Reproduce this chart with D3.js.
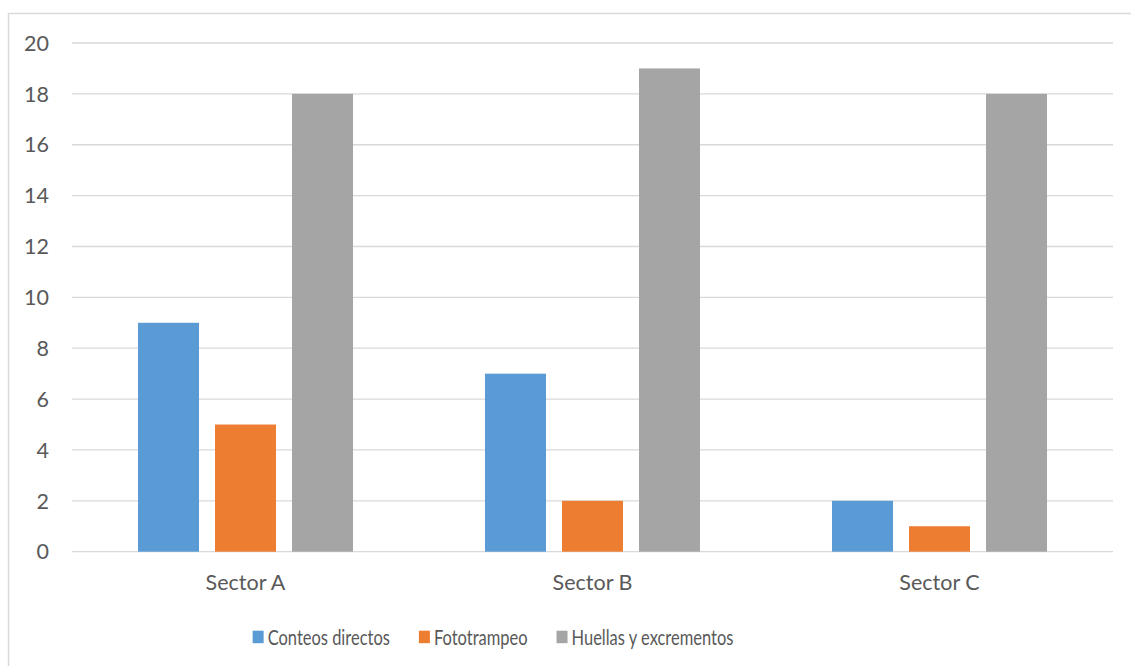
<!DOCTYPE html>
<html>
<head>
<meta charset="utf-8">
<script src="https://cdn.jsdelivr.net/npm/d3@7/dist/d3.min.js"></script>
<style>
  html, body { margin: 0; padding: 0; background: #fff; }
  text { font-family: Lato, "Open Sans", sans-serif; fill: #595959; }
</style>
</head>
<body>
<svg id="chart" width="1131" height="666"></svg>
<script>
// Survey counts per sector and method
const categories = ["Sector A", "Sector B", "Sector C"];
const seriesNames = ["Conteos directos", "Fototrampeo", "Huellas y excrementos"];
const conteos = [9, 7, 2];
const fototrampeo = [5, 2, 1];
const huellas = [18, 19, 18];
const yTicks = [0, 2, 4, 6, 8, 10, 12, 14, 16, 18, 20];
const colors = ["#5B9BD5", "#ED7D31", "#A5A5A5"];

const seriesValues = [conteos, fototrampeo, huellas];

const svg = d3.select("#chart");

// outer frame
svg.append("rect")
  .attr("x", 8.5).attr("y", 13.5)
  .attr("width", 1140).attr("height", 670)
  .attr("fill", "none").attr("stroke", "#D9D9D9").attr("stroke-width", 1.5);

const plot = { left: 72, right: 1113, top: 43, bottom: 551.7 };

const y = d3.scaleLinear().domain([0, 20]).range([plot.bottom, plot.top]);
const x0 = d3.scaleBand().domain(categories).range([plot.left, plot.right]).padding(0);
const x1 = d3.scaleBand().domain(seriesNames).range([0, x0.bandwidth()])
  .paddingInner(0.2078).paddingOuter(0.857);

// gridlines
svg.append("g").selectAll("line").data(yTicks).join("line")
  .attr("x1", plot.left).attr("x2", plot.right)
  .attr("y1", d => y(d)).attr("y2", d => y(d))
  .attr("stroke", "#D9D9D9").attr("stroke-width", 1.3);

// y tick labels
svg.append("g").selectAll("text").data(yTicks).join("text")
  .attr("x", 49).attr("y", d => y(d))
  .attr("dy", "0.36em")
  .attr("text-anchor", "end")
  .style("font-size", "21.5px")
  .text(d => d);

// bars
const groups = svg.append("g").selectAll("g").data(categories).join("g")
  .attr("transform", d => `translate(${x0(d)},0)`);

groups.selectAll("rect")
  .data((c, i) => seriesNames.map((s, j) => ({ s, j, v: seriesValues[j][i] })))
  .join("rect")
  .attr("x", d => x1(d.s))
  .attr("width", x1.bandwidth())
  .attr("y", d => y(d.v))
  .attr("height", d => y(0) - y(d.v))
  .attr("fill", d => colors[d.j]);

// category labels
svg.append("g").selectAll("text").data(categories).join("text")
  .attr("x", d => x0(d) + x0.bandwidth() / 2)
  .attr("y", 582)
  .attr("dy", "0.36em")
  .attr("text-anchor", "middle")
  .style("font-size", "21.5px")
  .text(d => d);

// legend (text is horizontally condensed)
const sx = 0.767;
const legend = svg.append("g");
const items = legend.selectAll("g").data(seriesNames).join("g");
items.append("rect")
  .attr("width", 11).attr("height", 12.5)
  .attr("y", 630.7)
  .attr("fill", (d, i) => colors[i]);
items.append("text")
  .attr("transform", `translate(15,637) scale(${sx},1)`)
  .attr("dy", "0.36em")
  .style("font-size", "21.5px")
  .text(d => d);

let widths = [];
items.each(function () {
  widths.push(15 + sx * d3.select(this).select("text").node().getComputedTextLength());
});
const gap = 29;
const total = d3.sum(widths) + gap * (widths.length - 1);
let cx = 493 - total / 2;
items.attr("transform", (d, i) => {
  const t = `translate(${cx},0)`;
  cx += widths[i] + gap;
  return t;
});
</script>
</body>
</html>
